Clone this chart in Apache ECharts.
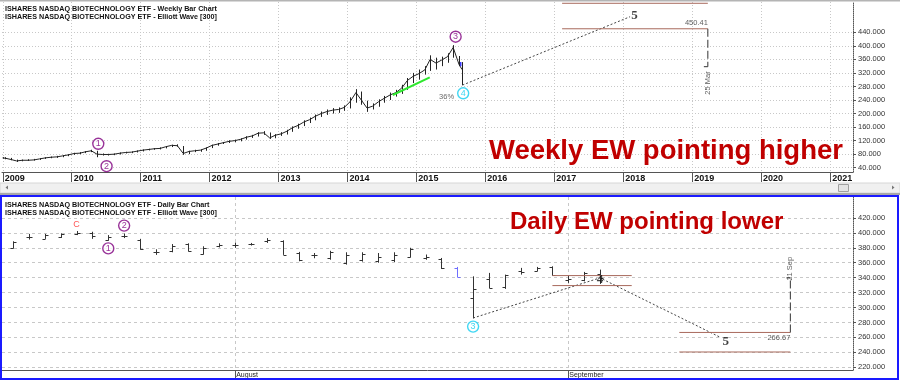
<!DOCTYPE html>
<html><head><meta charset="utf-8">
<script src="https://cdn.jsdelivr.net/npm/echarts@6/dist/echarts.min.js"></script>
<style>html,body{margin:0;padding:0;background:#fff}#c{width:900px;height:380px}</style>
</head><body><div id="c"></div>
<script>
// ===== Weekly chart (summarised per month: close / high / low) =====
const wDates = ['2008-12-31'];
for (let y = 2009; y <= 2015; y++) for (let m = 1; m <= 12; m++) { if (y === 2015 && m > 7) break; wDates.push(y + '-' + String(m).padStart(2, '0') + '-15'); }
wDates.push('2015-08-15', '2015-08-31');
const wClose = [69,
  68, 64, 60, 62, 62, 63, 66, 69, 71, 72, 75, 78,
  82, 83, 87, 90, 80, 79, 79, 80, 83, 85, 86, 89,
  92, 94, 96, 97, 102, 106, 105, 82, 88, 90, 92, 98,
  106, 110, 114, 118, 120, 124, 130, 134, 142, 143, 128, 136,
  140, 148, 158, 165, 175, 182, 192, 200, 206, 210, 212, 218,
  235, 262, 240, 216, 222, 235, 245, 255, 262, 275, 298, 310,
  318, 329, 360, 349, 358, 368, 395, 345, 330];
const wHigh = [71,
  71, 69, 64, 64, 65, 66, 68, 71, 73, 75, 77, 80,
  84, 86, 89, 93, 90, 82, 81, 82, 85, 87, 88, 91,
  94, 96, 98, 100, 104, 108, 109, 104, 90, 93, 94, 100,
  108, 113, 116, 121, 123, 127, 133, 137, 145, 148, 144, 139,
  145, 152, 162, 170, 180, 188, 197, 206, 212, 216, 218, 224,
  248, 272, 265, 238, 230, 242, 252, 262, 270, 285, 305, 320,
  330, 340, 372, 365, 368, 378, 402, 370, 352];
const wLow = [67,
  65, 62, 57, 59, 60, 61, 63, 66, 68, 69, 71, 74,
  78, 80, 83, 86, 71, 76, 76, 77, 79, 82, 83, 85,
  88, 91, 93, 94, 97, 101, 102, 78, 80, 86, 87, 90,
  98, 105, 110, 113, 115, 118, 123, 128, 132, 137, 125, 127,
  134, 138, 146, 155, 163, 172, 180, 190, 196, 200, 202, 208,
  215, 232, 226, 205, 212, 220, 232, 240, 250, 258, 270, 290,
  300, 315, 326, 330, 340, 350, 365, 340, 284];
const wBlueTick = [['2015-08-24', 340], ['2015-08-24', 352]];
const wYearTicks = [2009, 2010, 2011, 2012, 2013, 2014, 2015, 2016, 2017, 2018, 2019, 2020, 2021];
const wPriceTicks = [40, 80, 120, 160, 200, 240, 280, 320, 360, 400, 440];
const wGreen = [['2014-08-29', 254.8], ['2015-03-13', 307]];
const wProj = [['2015-09-02', 284], ['2018-02-06', 486]];
const wLevels = [[['2017-02-11', 525.7], ['2019-03-25', 525.7]], [['2017-02-11', 450.41], ['2019-03-25', 450.41]]];
const wTimeLine = [['2019-03-25', 450.41], ['2019-03-25', 338.4]];
const wTimeTick = [['2019-03-04', 338.4], ['2019-03-25', 338.4]];
const wCircles = [
  { d: '2010-05-22', v: 110.6, n: '1', c: 'p' }, { d: '2010-07-05', v: 44.4, n: '2', c: 'p' },
  { d: '2015-07-28', v: 427, n: '3', c: 'p' }, { d: '2015-09-06', v: 259.8, n: '4', c: 'c' }];
const wTexts = [
  { d: '2015-06-10', v: 249, t: '36%', k: 'small' },
  { d: '2018-03-01', v: 489.6, t: '5', k: 'wave' },
  { d: '2019-03-25', v: 450.41, t: '450.41', k: 'levelAbove' },
  { d: '2019-03-25', v: 299, t: '25 Mar', k: 'vert' }];

// ===== Daily chart =====
const dDates = ['Jul 14','Jul 15','Jul 16','Jul 17','Jul 20','Jul 21','Jul 22','Jul 23','Jul 24','Jul 27','Jul 28','Jul 29','Jul 30','Jul 31',
  'Aug 3','Aug 4','Aug 5','Aug 6','Aug 7','Aug 10','Aug 11','Aug 12','Aug 13','Aug 14','Aug 17','Aug 18','Aug 19','Aug 20','Aug 21',
  'Aug 24','Aug 25','Aug 26','Aug 27','Aug 28','Aug 31','Sep 1','Sep 2','Sep 3'];
const dOpen  = [380, 394, 392, 395, 399, 400, 390, 396, 391, 374, 376, 385, 372, 383, 384, 384.5, 389, 389, 373, 370, 366, 360, 363, 362, 363, 368, 367, 365, 353, 313, 338, 327, 349, 349, 354, 337, 337, 345];
const dHigh  = [388.7, 398.6, 398.6, 399.4, 402.5, 401.5, 397, 399, 392, 378, 385, 386, 382, 386, 387, 386.5, 393, 390, 374.5, 373, 376, 374, 374, 373, 374, 380, 371, 366.4, 354.4, 341.8, 346.4, 344.1, 353.1, 354.4, 355.2, 342.8, 347.7, 350.8];
const dLow   = [379, 391, 391.9, 393.2, 397, 392, 389.5, 393, 377.5, 370.5, 374, 375, 371, 380.5, 380, 383, 386.5, 370.5, 362, 366, 364, 357.5, 361.5, 360, 361, 367, 364, 351.7, 340.5, 285.6, 325.8, 325, 344.1, 348.5, 342.8, 333, 335.1, 331.6];
const dClose = [388, 395, 397, 398.5, 400, 396, 395, 396, 378.5, 374, 383, 376, 380, 384, 384, 385, 390, 371, 364, 371, 374, 371, 372, 368, 370, 378, 368, 353, 341, 325, 326, 343, 347, 353, 343, 338, 346, 340];
const dBlue = ['Aug 21'];
const dFirstOffset = -14;               // Jul 14 sits 14 sessions before Aug 3
const dMonthLabels = [['Aug 3', 'August'], ['Sep 1', 'September']];
const dPriceTicks = [220, 240, 260, 280, 300, 320, 340, 360, 380, 400, 420];
const dProj = [[15, 286], [23, 339.7], [30.6, 260]];
const dLevels = [[[20, 342.8], [25, 342.8]], [[20, 329.4], [25, 329.4]], [[28, 266.67], [35, 266.67]], [[28, 240.5], [35, 240.5]]];
const dTimeLine = [[35, 266.67], [35, 339.7]];
const dTimeTick = [[34.75, 339.7], [35, 339.7]];
const dCircles = [{ i: -8, v: 379.2, n: '1', c: 'p' }, { i: -7, v: 409.7, n: '2', c: 'p' }, { i: 15, v: 274.5, n: '3', c: 'c' }];
const dTexts = [
  { i: -10, v: 411, t: 'C', k: 'red' },
  { i: 23, v: 336.7, t: '4', k: 'wave' },
  { i: 30.93, v: 253.7, t: '5', k: 'wave' },
  { i: 35, v: 266.67, t: '266.67', k: 'levelBelow' },
  { i: 35, v: 356, t: '21 Sep', k: 'vert' }];

// ===== helpers =====
function ts(s) { const p = s.split('-').map(Number); return new Date(p[0], p[1] - 1, p[2]).getTime(); }
const dIdx = dDates.map((d, i) => i + dFirstOffset);
const idxOf = d => dDates.indexOf(d) + dFirstOffset;
const PURPLE = '#800080', CYAN = '#12cdf0', FONT = 'Liberation Sans';
const colOf = c => c === 'p' ? PURPLE : CYAN;

function textLabel(k, t) {
  const base = { show: true, formatter: t, fontFamily: FONT, color: '#333', position: 'inside' };
  if (k === 'small') return Object.assign(base, { fontSize: 7.5, color: '#444' });
  if (k === 'wave') return Object.assign(base, { fontSize: 13, fontWeight: 'bold', fontFamily: 'Liberation Serif', color: '#111' });
  if (k === 'levelAbove') return Object.assign(base, { fontSize: 7.5, align: 'right', offset: [0, -5.5] });
  if (k === 'levelBelow') return Object.assign(base, { fontSize: 7.5, align: 'right', offset: [0, 5.5] });
  if (k === 'vert') return Object.assign(base, { fontSize: 7.5, rotate: 90, offset: [-3, 0] });
  if (k === 'red') return Object.assign(base, { fontSize: 9, color: '#ff2a2a' });
  return base;
}
function lineSeries(xi, data, style) {
  return { type: 'line', xAxisIndex: xi, yAxisIndex: xi, data: data, showSymbol: false, symbol: 'none', silent: true,
    lineStyle: style, z: 3, animation: false };
}
const yearTs = wYearTicks.map(y => new Date(y, 0, 1).getTime());

const series = [];
// weekly range bars
series.push({ type: 'custom', xAxisIndex: 0, yAxisIndex: 0, silent: true, clip: true,
  data: wDates.map((d, i) => [ts(d), wLow[i], wHigh[i]]), encode: { x: 0, y: [1, 2] },
  renderItem: (p, api) => {
    const a = api.coord([api.value(0), api.value(1)]), b = api.coord([api.value(0), api.value(2)]);
    const x = Math.round(a[0]) + 0.5;
    return { type: 'line', shape: { x1: x, y1: a[1], x2: x, y2: b[1] }, style: { stroke: '#222', lineWidth: 1 } };
  } });
series.push(lineSeries(0, wDates.map((d, i) => [ts(d), wClose[i]]), { color: '#222', width: 1 }));
series.push(lineSeries(0, wBlueTick.map(p => [ts(p[0]), p[1]]), { color: '#3a3aff', width: 1.5 }));
series.push(lineSeries(0, wGreen.map(p => [ts(p[0]), p[1]]), { color: '#2ee82e', width: 2 }));
series.push(lineSeries(0, wProj.map(p => [ts(p[0]), p[1]]), { color: '#444', width: 1, type: [2, 2] }));
wLevels.forEach(l => series.push(lineSeries(0, l.map(p => [ts(p[0]), p[1]]), { color: '#a8695c', width: 1 })));
series.push(lineSeries(0, wTimeLine.map(p => [ts(p[0]), p[1]]), { color: '#333', width: 1, type: [8, 3] }));
series.push(lineSeries(0, wTimeTick.map(p => [ts(p[0]), p[1]]), { color: '#333', width: 1 }));
series.push({ type: 'scatter', xAxisIndex: 0, yAxisIndex: 0, silent: true, symbol: 'circle', symbolSize: 11, z: 5,
  data: wCircles.map(c => ({ value: [ts(c.d), c.v], itemStyle: { color: '#fff', borderColor: colOf(c.c), borderWidth: 1.4 },
    label: { show: true, position: 'inside', formatter: c.n, color: colOf(c.c), fontSize: 9, fontFamily: FONT } })) });
series.push({ type: 'scatter', xAxisIndex: 0, yAxisIndex: 0, silent: true, symbolSize: 0, z: 6,
  data: wTexts.map(t => ({ value: [ts(t.d), t.v], itemStyle: { color: 'transparent' }, label: textLabel(t.k, t.t) })) });

// daily OHLC bars
series.push({ type: 'custom', xAxisIndex: 1, yAxisIndex: 1, silent: true, clip: true,
  data: dDates.map((d, i) => [dIdx[i], dOpen[i], dHigh[i], dLow[i], dClose[i], dBlue.indexOf(d) >= 0 ? 1 : 0]),
  encode: { x: 0, y: [2, 3] },
  renderItem: (p, api) => {
    const x0 = api.value(0);
    const h = api.coord([x0, api.value(2)]), l = api.coord([x0, api.value(3)]);
    const o = api.coord([x0, api.value(1)]), c = api.coord([x0, api.value(4)]);
    const col = api.value(5) ? '#6f6fff' : '#333';
    const x = Math.round(h[0]) + 0.5, w = 3;
    const st = { stroke: col, lineWidth: 1 };
    return { type: 'group', children: [
      { type: 'line', shape: { x1: x, y1: h[1], x2: x, y2: l[1] }, style: st },
      { type: 'line', shape: { x1: x - w, y1: Math.round(o[1]) + 0.5, x2: x, y2: Math.round(o[1]) + 0.5 }, style: st },
      { type: 'line', shape: { x1: x, y1: Math.round(c[1]) + 0.5, x2: x + w, y2: Math.round(c[1]) + 0.5 }, style: st }] };
  } });
series.push(lineSeries(1, dProj, { color: '#444', width: 1, type: [2, 2] }));
dLevels.forEach(l => series.push(lineSeries(1, l, { color: '#a8695c', width: 1 })));
series.push(lineSeries(1, dTimeLine, { color: '#333', width: 1, type: [8, 3] }));
series.push(lineSeries(1, dTimeTick, { color: '#333', width: 1 }));
series.push({ type: 'scatter', xAxisIndex: 1, yAxisIndex: 1, silent: true, symbol: 'circle', symbolSize: 11, z: 5,
  data: dCircles.map(c => ({ value: [c.i, c.v], itemStyle: { color: '#fff', borderColor: colOf(c.c), borderWidth: 1.4 },
    label: { show: true, position: 'inside', formatter: c.n, color: colOf(c.c), fontSize: 9, fontFamily: FONT } })) });
series.push({ type: 'scatter', xAxisIndex: 1, yAxisIndex: 1, silent: true, symbolSize: 0, z: 6,
  data: dTexts.map(t => ({ value: [t.i, t.v], itemStyle: { color: 'transparent' }, label: textLabel(t.k, t.t) })) });

const yAxisCommon = (min, max, ticks, dashed) => ({
  type: 'value', position: 'right', min: min, max: max,
  axisLine: { show: true, onZero: false, lineStyle: { color: '#555', type: [1, 1] } },
  axisTick: { show: true, length: 3, customValues: ticks, lineStyle: { color: '#555' } },
  axisLabel: { customValues: ticks, formatter: v => v.toFixed(3), fontSize: 7.5, fontFamily: FONT, color: '#333', margin: 5 },
  splitLine: { show: true, lineStyle: { color: '#c8c8c8', type: dashed ? [3, 3] : [1, 2] } }
});

const option = {
  animation: false,
  grid: [
    { left: 2, right: 47, top: 2, height: 170, outerBoundsMode: 'none', containLabel: false },
    { left: 2, right: 47, top: 197, height: 173, outerBoundsMode: 'none', containLabel: false }],
  xAxis: [
    { type: 'value', gridIndex: 0, min: ts('2008-12-28'), max: ts('2021-05-02'),
      axisLine: { show: true, onZero: false, lineStyle: { color: '#555', width: 1 } },
      axisTick: { show: true, length: 10, customValues: yearTs, lineStyle: { color: '#555' } },
      axisLabel: { customValues: yearTs, formatter: v => String(new Date(v).getFullYear()), fontWeight: 'bold', fontSize: 9,
        fontFamily: FONT, color: '#111', align: 'left', margin: 2, padding: [0, 0, 0, 2], showMinLabel: true, showMaxLabel: true },
      splitLine: { show: true, lineStyle: { color: '#c8c8c8', type: [1, 2] } } },
    { type: 'value', gridIndex: 1, min: -14.7, max: 38.95,
      axisLine: { show: true, onZero: false, lineStyle: { color: '#555', width: 1 } },
      axisTick: { show: true, length: 10, customValues: dMonthLabels.map(m => idxOf(m[0])), lineStyle: { color: '#555' } },
      axisLabel: { customValues: dMonthLabels.map(m => idxOf(m[0])),
        formatter: v => { const m = dMonthLabels.find(q => idxOf(q[0]) === v); return m ? m[1] : ''; },
        fontSize: 7, fontFamily: FONT, color: '#222', align: 'left', margin: 2, padding: [0, 0, 0, 1], showMinLabel: true, showMaxLabel: true },
      splitLine: { show: true, lineStyle: { color: '#c8c8c8', type: [3, 3] } } }],
  yAxis: [
    Object.assign({ gridIndex: 0 }, yAxisCommon(27.3, 529.5, wPriceTicks, false)),
    Object.assign({ gridIndex: 1 }, yAxisCommon(216.4, 448, dPriceTicks, true))],
  series: series,
  graphic: [
    { type: 'rect', shape: { x: 0, y: 0, width: 900, height: 1.5 }, style: { fill: '#b4b4b4' }, z: 10 },
    { type: 'text', left: 5, top: 5.5, style: { text: 'ISHARES NASDAQ BIOTECHNOLOGY ETF - Weekly Bar Chart', font: 'bold 7.2px Liberation Sans', fill: '#111' }, z: 10 },
    { type: 'text', left: 5, top: 13.5, style: { text: 'ISHARES NASDAQ BIOTECHNOLOGY ETF - Elliott Wave [300]', font: 'bold 7.2px Liberation Sans', fill: '#111' }, z: 10 },
    { type: 'text', left: 5, top: 201.5, style: { text: 'ISHARES NASDAQ BIOTECHNOLOGY ETF - Daily Bar Chart', font: 'bold 7.2px Liberation Sans', fill: '#111' }, z: 10 },
    { type: 'text', left: 5, top: 209.5, style: { text: 'ISHARES NASDAQ BIOTECHNOLOGY ETF - Elliott Wave [300]', font: 'bold 7.2px Liberation Sans', fill: '#111' }, z: 10 },
    { type: 'text', x: 489, y: 151.5, style: { text: 'Weekly EW pointing higher', font: 'bold 27.5px Liberation Sans', fill: '#c00000', verticalAlign: 'middle' }, z: 10 },
    { type: 'text', x: 510, y: 222, style: { text: 'Daily EW pointing lower', font: 'bold 24px Liberation Sans', fill: '#c00000', verticalAlign: 'middle' }, z: 10 },
    // scrollbar
    { type: 'rect', shape: { x: 0, y: 183, width: 900, height: 10 }, style: { fill: '#f0f0f0', stroke: '#d6d6d6', lineWidth: 1 }, z: 10 },
    { type: 'rect', shape: { x: 838.5, y: 184.5, width: 10, height: 7 }, style: { fill: '#e4e4e4', stroke: '#a0a0a0', lineWidth: 1 }, z: 11 },
    { type: 'polygon', shape: { points: [[892, 185.5], [892, 189.5], [894.5, 187.5]] }, style: { fill: '#777' }, z: 11 },
    { type: 'polygon', shape: { points: [[8, 185.5], [8, 189.5], [5.5, 187.5]] }, style: { fill: '#777' }, z: 11 },
    { type: 'rect', shape: { x: 0, y: 193, width: 900, height: 2 }, style: { fill: '#a8a8a8' }, z: 10 },
    // bottom panel frame
    { type: 'rect', shape: { x: 1, y: 196, width: 897, height: 183 }, style: { fill: 'none', stroke: '#1a1aff', lineWidth: 2 }, z: 12 }
  ]
};
const chart = echarts.init(document.getElementById('c'), null, { renderer: 'canvas', width: 900, height: 380 });
chart.setOption(option);
</script></body></html>
